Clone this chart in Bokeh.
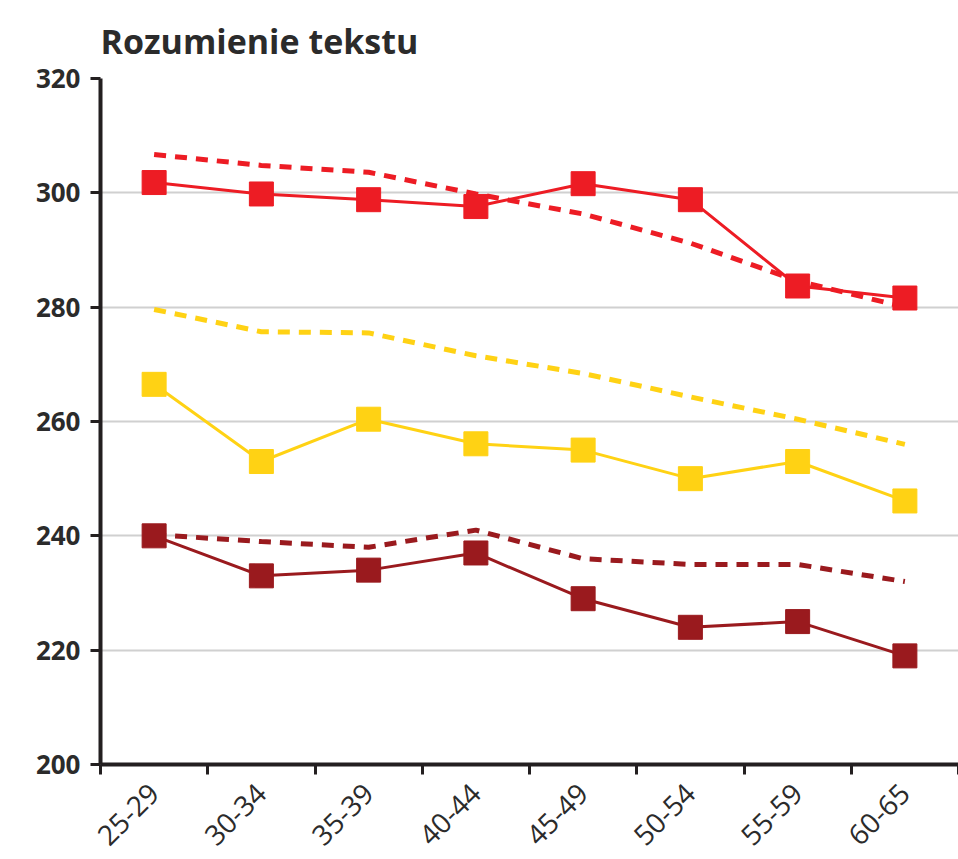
import math
from bokeh.plotting import figure
from bokeh.models import FixedTicker, Range1d
from bokeh.embed import file_html
from bokeh.resources import INLINE

categories = ["25-29", "30-34", "35-39", "40-44", "45-49", "50-54", "55-59", "60-65"]
red_solid = [301.8, 299.8, 298.8, 297.6, 301.6, 298.8, 283.7, 281.6]
red_dash = [306.7, 304.8, 303.6, 299.8, 296.3, 291.2, 284.6, 280.0]
yellow_dash = [279.6, 275.7, 275.5, 271.5, 268.4, 264.3, 260.4, 256.0]
yellow_solid = [266.5, 253.0, 260.4, 256.1, 255.0, 250.0, 253.0, 246.1]
dred_dash = [240.2, 239.0, 238.0, 241.0, 236.0, 235.0, 235.0, 232.0]
dred_solid = [240.0, 233.0, 234.0, 237.0, 229.0, 224.0, 225.0, 219.0]
y_ticks = [200, 220, 240, 260, 280, 300, 320]

RED = "#ED1C24"
YEL = "#FFD214"
DRED = "#9A1A1E"
AXIS = "#231f20"
TXT = "#2b2b2b"

xs = [i + 0.5 for i in range(len(categories))]

p = figure(width=958, height=857, output_backend="svg", toolbar_location=None,
           x_range=Range1d(0, len(categories)), y_range=Range1d(200, 320),
           min_border_left=100, min_border_top=78, min_border_bottom=90, min_border_right=0)
p.outline_line_color = None
p.background_fill_color = "white"

p.title.text = "Rozumienie tekstu"
p.title.text_font = "Open Sans"
p.title.text_font_size = "34px"
p.title.text_font_style = "bold"
p.title.text_color = TXT
p.title.align = "left"
p.title.standoff = 29

# dashed series
for ys, c in [(red_dash, RED), (yellow_dash, YEL), (dred_dash, DRED)]:
    p.line(xs, ys, line_color=c, line_width=5, line_dash="12 9")

# solid series with markers
for ys, c in [(red_solid, RED), (yellow_solid, YEL), (dred_solid, DRED)]:
    p.line(xs, ys, line_color=c, line_width=3)
    p.scatter(xs, ys, marker="square", size=24, fill_color=c, line_color=c)

# axes
p.xaxis.ticker = FixedTicker(ticks=xs, minor_ticks=list(range(len(categories) + 1)))
p.xaxis.major_label_overrides = {x: c for x, c in zip(xs, categories)}
p.xaxis.major_tick_line_color = None
p.xaxis.minor_tick_line_color = AXIS
p.xaxis.minor_tick_line_width = 3
p.xaxis.minor_tick_out = 10
p.xaxis.minor_tick_in = 0
p.xaxis.major_label_orientation = math.pi / 4
p.xaxis.major_label_standoff = 14
p.xaxis.major_label_text_font_size = "28px"
p.xaxis.major_label_text_font_style = "normal"

p.yaxis.ticker = FixedTicker(ticks=y_ticks)
p.yaxis.major_tick_line_color = AXIS
p.yaxis.major_tick_line_width = 3
p.yaxis.major_tick_out = 10
p.yaxis.major_tick_in = 0
p.yaxis.minor_tick_line_color = None
p.yaxis.major_label_standoff = 10
p.yaxis.major_label_text_font_size = "26px"
p.yaxis.major_label_text_font_style = "bold"

for ax in (p.xaxis, p.yaxis):
    ax.axis_line_color = AXIS
    ax.axis_line_width = 4
    ax.major_label_text_font = "Open Sans"
    ax.major_label_text_color = TXT

p.xgrid.grid_line_color = None
p.ygrid.grid_line_color = "#d0d0d0"
p.ygrid.grid_line_width = 2

open("out.html", "w").write(file_html(p, INLINE))
